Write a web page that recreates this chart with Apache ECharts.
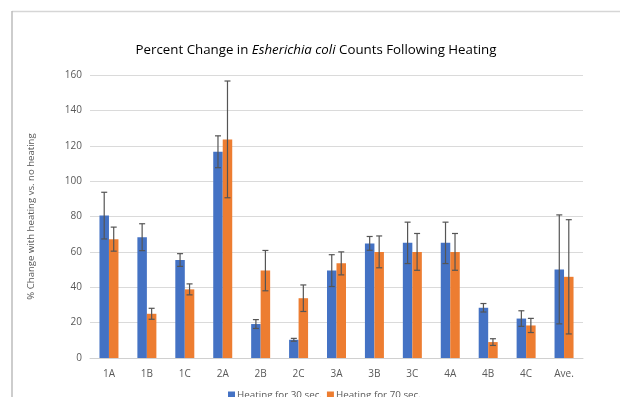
<!DOCTYPE html>
<html>
<head>
<meta charset="utf-8">
<script src="https://cdn.jsdelivr.net/npm/echarts@6/dist/echarts.min.js"></script>
<style>html,body{margin:0;padding:0;background:#fff;overflow:hidden}#c{width:620px;height:397px}</style>
</head>
<body>
<div id="c"></div>
<script>
var categories = ['1A','1B','1C','2A','2B','2C','3A','3B','3C','4A','4B','4C','Ave.'];
var heat30 = [80.5, 68.3, 55.4, 116.6, 19.2, 10.3, 49.4, 64.8, 65.1, 65.1, 28.4, 22.3, 50.1];
var heat30Err = [13.2, 7.6, 3.6, 9.0, 2.5, 0.8, 9.0, 3.9, 11.7, 11.7, 2.4, 4.4, 30.8];
var heat70 = [67.2, 25.0, 38.8, 123.6, 49.4, 33.8, 53.5, 60.0, 60.0, 60.0, 9.0, 18.4, 45.9];
var heat70Err = [6.8, 3.1, 3.1, 33.0, 11.4, 7.5, 6.5, 9.0, 10.4, 10.4, 1.9, 4.0, 32.3];
var yTicks = [0, 20, 40, 60, 80, 100, 120, 140, 160];

var chart = echarts.init(document.getElementById('c'), null, {renderer: 'canvas'});
var font = '"Open Sans", sans-serif';

function errSeries(name, vals, errs, offset) {
  return {
    type: 'custom',
    name: name + ' err',
    z: 10,
    silent: true,
    renderItem: function (params, api) {
      var i = api.value(0);
      var hi = api.coord([i, api.value(1) + api.value(2)]);
      var lo = api.coord([i, api.value(1) - api.value(2)]);
      var x = hi[0] + offset;
      var cap = 3;
      var st = {stroke: '#555555', lineWidth: 1.2};
      return {type: 'group', children: [
        {type: 'line', shape: {x1: x, y1: hi[1], x2: x, y2: lo[1]}, style: st},
        {type: 'line', shape: {x1: x - cap, y1: hi[1], x2: x + cap, y2: hi[1]}, style: st},
        {type: 'line', shape: {x1: x - cap, y1: lo[1], x2: x + cap, y2: lo[1]}, style: st}
      ]};
    },
    data: vals.map(function (v, i) { return [i, v, errs[i]]; })
  };
}

var option = {
  animation: false,
  textStyle: {fontFamily: font},
  graphic: [
    {type: 'line', shape: {x1: 12, y1: 11.5, x2: 620, y2: 11.5},
     style: {stroke: '#d6d6d6', lineWidth: 1.5}, silent: true},
    {type: 'line', shape: {x1: 12, y1: 11, x2: 12, y2: 397},
     style: {stroke: '#bdbdbd', lineWidth: 1.5}, silent: true},
    {type: 'text', x: 316, y: 50, silent: true,
     style: {
       text: '{a|Percent Change in }{i|Esherichia coli}{a| Counts Following Heating}',
       align: 'center', verticalAlign: 'middle',
       rich: {
         a: {fontSize: 13.3, color: '#595959', fontFamily: font, fontWeight: 'normal'},
         i: {fontSize: 13.3, color: '#595959', fontStyle: 'italic', fontFamily: font, fontWeight: 'normal'}
       }
     }}
  ],
  legend: {
    data: ['Heating for 30 sec.', 'Heating for 70 sec.'],
    left: 223, top: 385, itemWidth: 7, itemHeight: 7, itemGap: 5,
    icon: 'rect',
    textStyle: {fontSize: 9.8, color: '#595959', padding: [0, 0, 0, -3]}
  },
  grid: {left: 90, right: 37, top: 75, bottom: 39},
  xAxis: {
    type: 'category', data: categories,
    axisLine: {lineStyle: {color: '#d0d0d0'}},
    axisTick: {show: false},
    axisLabel: {color: '#595959', fontSize: 10, margin: 11}
  },
  yAxis: {
    type: 'value', min: yTicks[0], max: yTicks[yTicks.length - 1], interval: 20,
    name: '% Change with heating vs. no heating',
    nameLocation: 'middle', nameGap: 54,
    nameTextStyle: {color: '#595959', fontSize: 9.6},
    axisLine: {show: false}, axisTick: {show: false},
    axisLabel: {color: '#595959', fontSize: 10, margin: 8},
    splitLine: {lineStyle: {color: '#dadada'}}
  },
  series: [
    {name: 'Heating for 30 sec.', type: 'bar', data: heat30, barWidth: 9.5, barGap: '0%',
     itemStyle: {color: '#4472C4'}},
    {name: 'Heating for 70 sec.', type: 'bar', data: heat70, barWidth: 9.5, barGap: '0%',
     itemStyle: {color: '#ED7D31'}},
    errSeries('Heating for 30 sec.', heat30, heat30Err, -4.75),
    errSeries('Heating for 70 sec.', heat70, heat70Err, 4.75)
  ]
};
chart.setOption(option);
</script>
</body>
</html>
